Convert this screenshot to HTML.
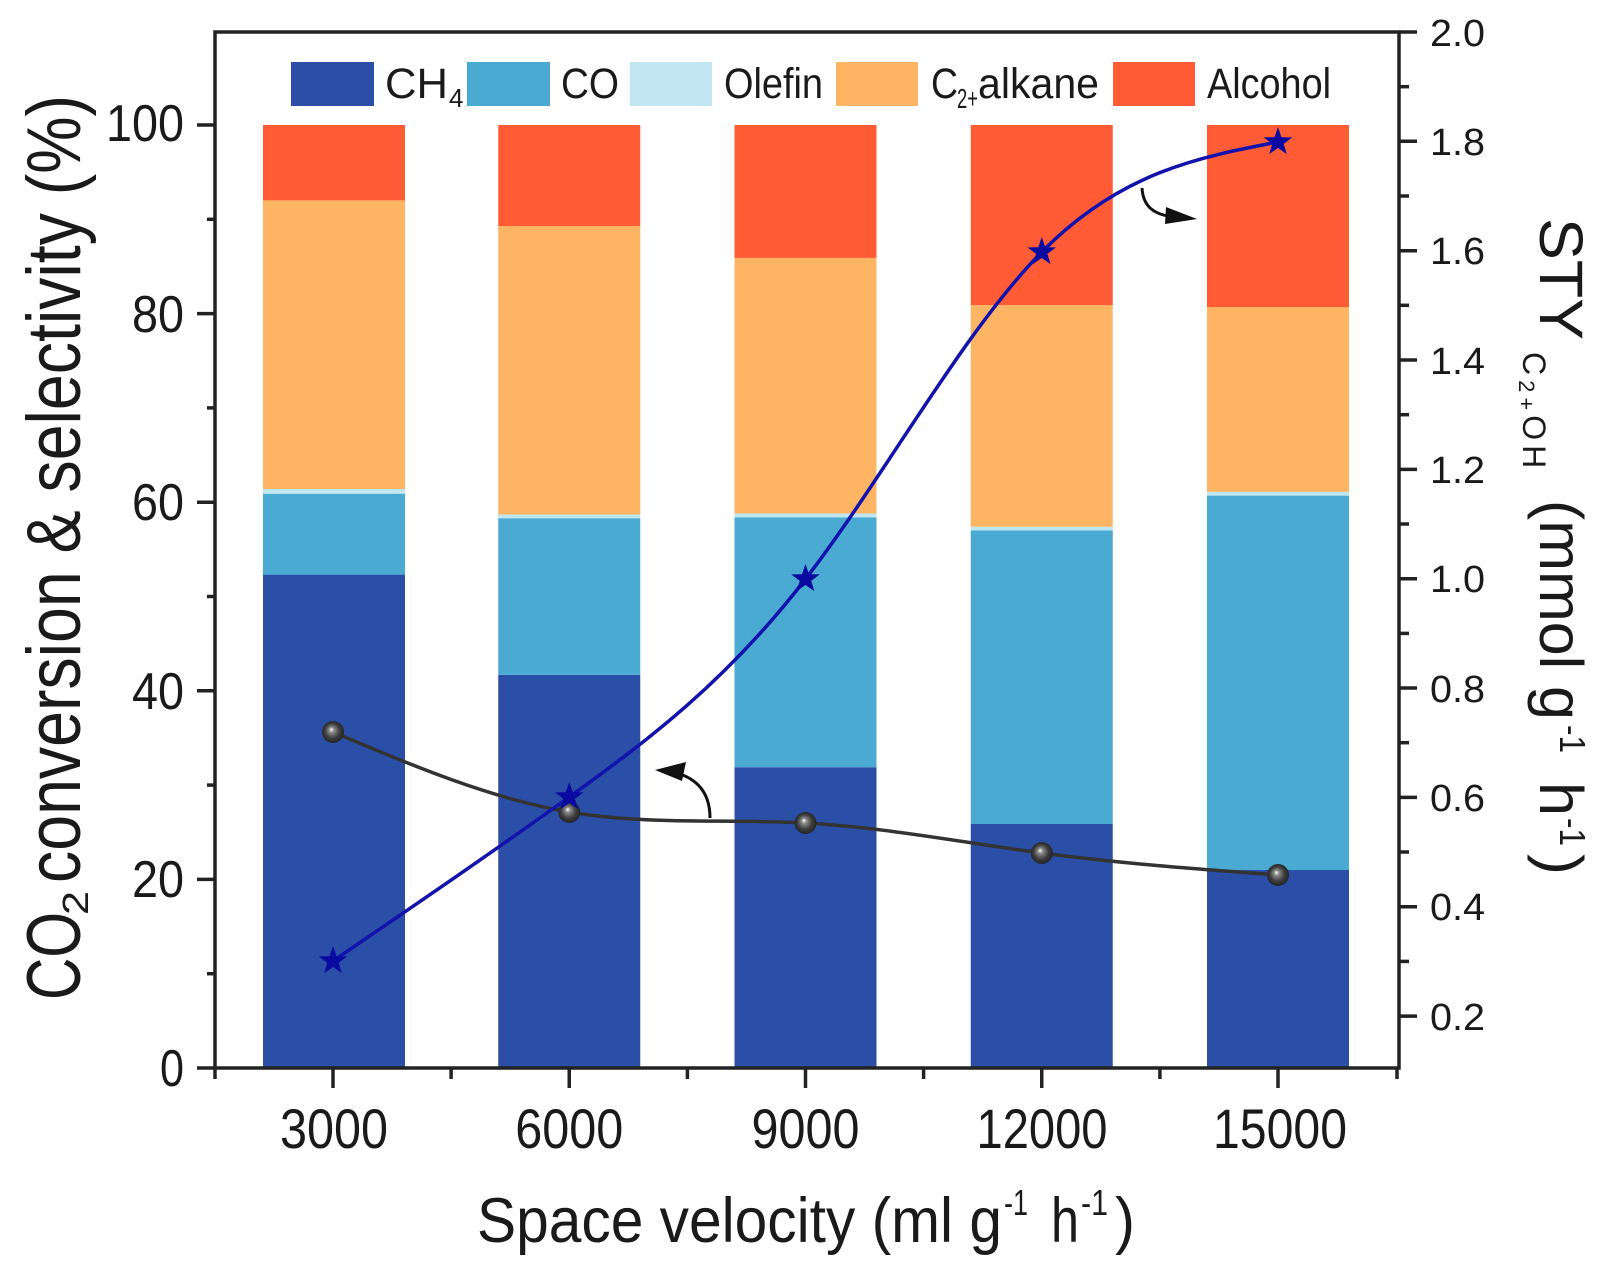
<!DOCTYPE html>
<html>
<head>
<meta charset="utf-8">
<style>
html,body{margin:0;padding:0;background:#fff;}
svg{display:block;}
text{font-family:"Liberation Sans",Arial,Helvetica,sans-serif;fill:#1a1a1a;}
</style>
</head>
<body>
<svg width="1603" height="1267" viewBox="0 0 1603 1267" xmlns="http://www.w3.org/2000/svg">
<defs>
<radialGradient id="ball" cx="0.5" cy="0.5" r="0.55" fx="0.42" fy="0.38">
<stop offset="0" stop-color="#ffffff"/>
<stop offset="0.22" stop-color="#8a8a8a"/>
<stop offset="0.6" stop-color="#3e3e3e"/>
<stop offset="1" stop-color="#1e1e1e"/>
</radialGradient>
<polygon id="star" points="0,-15 3.5,-4.8 14.3,-4.6 5.7,1.9 8.8,12.1 0,6 -8.8,12.1 -5.7,1.9 -14.3,-4.6 -3.5,-4.8" fill="#0a0aa0"/>
</defs>
<rect width="1603" height="1267" fill="#fff"/>

<!-- Bars -->
<g>
<rect x="263" y="574.6" width="142" height="493.4" fill="#2b4fa7"/>
<rect x="263" y="493.7" width="142" height="80.9" fill="#4aaad2"/>
<rect x="263" y="489.0" width="142" height="4.7" fill="#bfe6f1"/>
<rect x="263" y="200.4" width="142" height="288.6" fill="#fdb563"/>
<rect x="263" y="125" width="142" height="75.4" fill="#ff5c35"/>
</g>
<g>
<rect x="498.25" y="674.8" width="142" height="393.2" fill="#2b4fa7"/>
<rect x="498.25" y="518.2" width="142" height="156.6" fill="#4aaad2"/>
<rect x="498.25" y="514.5" width="142" height="3.7" fill="#bfe6f1"/>
<rect x="498.25" y="226.1" width="142" height="288.4" fill="#fdb563"/>
<rect x="498.25" y="125" width="142" height="101.1" fill="#ff5c35"/>
</g>
<g>
<rect x="734.5" y="767.2" width="142" height="300.8" fill="#2b4fa7"/>
<rect x="734.5" y="517.3" width="142" height="249.9" fill="#4aaad2"/>
<rect x="734.5" y="513.5" width="142" height="3.8" fill="#bfe6f1"/>
<rect x="734.5" y="257.9" width="142" height="255.6" fill="#fdb563"/>
<rect x="734.5" y="125" width="142" height="132.9" fill="#ff5c35"/>
</g>
<g>
<rect x="970.75" y="824.0" width="142" height="244" fill="#2b4fa7"/>
<rect x="970.75" y="530.5" width="142" height="293.5" fill="#4aaad2"/>
<rect x="970.75" y="526.7" width="142" height="3.8" fill="#bfe6f1"/>
<rect x="970.75" y="305.1" width="142" height="221.6" fill="#fdb563"/>
<rect x="970.75" y="125" width="142" height="180.1" fill="#ff5c35"/>
</g>
<g>
<rect x="1207" y="870.0" width="142" height="198" fill="#2b4fa7"/>
<rect x="1207" y="495.6" width="142" height="374.4" fill="#4aaad2"/>
<rect x="1207" y="491.8" width="142" height="3.8" fill="#bfe6f1"/>
<rect x="1207" y="307" width="142" height="184.8" fill="#fdb563"/>
<rect x="1207" y="125" width="142" height="182" fill="#ff5c35"/>
</g>

<!-- Legend -->
<rect x="291" y="62" width="83" height="44" fill="#2b4fa7"/>
<text x="385" y="98" font-size="43" textLength="63" lengthAdjust="spacingAndGlyphs">CH</text>
<text x="449" y="107" font-size="26">4</text>
<rect x="467" y="62" width="83" height="44" fill="#4aaad2"/>
<text x="561" y="98" font-size="43" textLength="58" lengthAdjust="spacingAndGlyphs">CO</text>
<rect x="630" y="62" width="82" height="44" fill="#bfe6f1"/>
<text x="724" y="98" font-size="43" textLength="99" lengthAdjust="spacingAndGlyphs">Olefin</text>
<rect x="836" y="62" width="82" height="44" fill="#fdb563"/>
<text x="931" y="98" font-size="43" textLength="27" lengthAdjust="spacingAndGlyphs">C</text>
<text x="957" y="108" font-size="28" textLength="21" lengthAdjust="spacingAndGlyphs">2+</text>
<text x="978" y="98" font-size="43" textLength="121" lengthAdjust="spacingAndGlyphs">alkane</text>
<rect x="1113" y="62" width="82" height="44" fill="#ff5c35"/>
<text x="1207" y="98" font-size="43" textLength="124" lengthAdjust="spacingAndGlyphs">Alcohol</text>

<!-- Black conversion line -->
<path d="M333,732 C411.75,765.33 490.5,798.65 569.25,812 C648,825.34 726.75,818.71 805.5,823 C884.25,827.29 963,842.51 1041.75,853 C1120.5,863.49 1199.25,869.24 1278,875" fill="none" stroke="#333" stroke-width="3.5"/>
<g>
<circle cx="333" cy="732" r="11" fill="url(#ball)"/>
<circle cx="569.25" cy="812" r="11" fill="url(#ball)"/>
<circle cx="805.5" cy="823" r="11" fill="url(#ball)"/>
<circle cx="1041.75" cy="853" r="11" fill="url(#ball)"/>
<circle cx="1278" cy="875" r="11" fill="url(#ball)"/>
</g>

<!-- Blue STY line -->
<path d="M333,961 C411.75,907.27 490.5,853.54 569.25,797 C648,740.46 726.75,681.13 805.5,579 C884.25,476.87 963,331.96 1041.75,252 C1120.5,172.04 1199.25,157.02 1278,142" fill="none" stroke="#1212ac" stroke-width="3.5"/>
<use href="#star" x="333" y="961"/>
<use href="#star" x="569.25" y="797"/>
<use href="#star" x="805.5" y="579"/>
<use href="#star" x="1041.75" y="252"/>
<use href="#star" x="1278" y="142"/>

<!-- Arrows -->
<path d="M710,818 C710,796 700,781 680,774" fill="none" stroke="#111" stroke-width="3"/>
<polygon points="655,770 686,762 682,781" fill="#111"/>
<path d="M1142,188 C1143,205 1152,213 1168,216" fill="none" stroke="#111" stroke-width="3"/>
<polygon points="1197,219 1166,207 1165,224" fill="#111"/>

<!-- Axes frame -->
<rect x="215" y="32" width="1184" height="1036" fill="none" stroke="#222" stroke-width="3.5"/>

<!-- Left ticks -->
<g stroke="#222" stroke-width="3.5">
<line x1="197" y1="1068" x2="215" y2="1068"/>
<line x1="197" y1="879.4" x2="215" y2="879.4"/>
<line x1="197" y1="690.8" x2="215" y2="690.8"/>
<line x1="197" y1="502.2" x2="215" y2="502.2"/>
<line x1="197" y1="313.6" x2="215" y2="313.6"/>
<line x1="197" y1="125" x2="215" y2="125"/>
<line x1="207" y1="973.7" x2="215" y2="973.7"/>
<line x1="207" y1="785.1" x2="215" y2="785.1"/>
<line x1="207" y1="596.5" x2="215" y2="596.5"/>
<line x1="207" y1="407.9" x2="215" y2="407.9"/>
<line x1="207" y1="219.3" x2="215" y2="219.3"/>
</g>
<!-- Bottom ticks -->
<g stroke="#222" stroke-width="3.5">
<line x1="333" y1="1068" x2="333" y2="1088"/>
<line x1="569.25" y1="1068" x2="569.25" y2="1088"/>
<line x1="805.5" y1="1068" x2="805.5" y2="1088"/>
<line x1="1041.75" y1="1068" x2="1041.75" y2="1088"/>
<line x1="1278" y1="1068" x2="1278" y2="1088"/>
<line x1="215" y1="1068" x2="215" y2="1079"/>
<line x1="451.1" y1="1068" x2="451.1" y2="1079"/>
<line x1="687.4" y1="1068" x2="687.4" y2="1079"/>
<line x1="923.6" y1="1068" x2="923.6" y2="1079"/>
<line x1="1159.9" y1="1068" x2="1159.9" y2="1079"/>
<line x1="1397" y1="1068" x2="1397" y2="1079"/>
</g>
<!-- Right ticks -->
<g stroke="#222" stroke-width="3.5">
<line x1="1399" y1="32" x2="1417" y2="32"/>
<line x1="1399" y1="141.3" x2="1417" y2="141.3"/>
<line x1="1399" y1="250.7" x2="1417" y2="250.7"/>
<line x1="1399" y1="360" x2="1417" y2="360"/>
<line x1="1399" y1="469.4" x2="1417" y2="469.4"/>
<line x1="1399" y1="578.7" x2="1417" y2="578.7"/>
<line x1="1399" y1="688" x2="1417" y2="688"/>
<line x1="1399" y1="797.4" x2="1417" y2="797.4"/>
<line x1="1399" y1="906.7" x2="1417" y2="906.7"/>
<line x1="1399" y1="1016.1" x2="1417" y2="1016.1"/>
<line x1="1399" y1="86.7" x2="1409" y2="86.7"/>
<line x1="1399" y1="196" x2="1409" y2="196"/>
<line x1="1399" y1="305.3" x2="1409" y2="305.3"/>
<line x1="1399" y1="414.7" x2="1409" y2="414.7"/>
<line x1="1399" y1="524" x2="1409" y2="524"/>
<line x1="1399" y1="633.4" x2="1409" y2="633.4"/>
<line x1="1399" y1="742.7" x2="1409" y2="742.7"/>
<line x1="1399" y1="852" x2="1409" y2="852"/>
<line x1="1399" y1="961.4" x2="1409" y2="961.4"/>
</g>

<!-- Left tick labels -->
<g font-size="52" text-anchor="end">
<text x="184" y="1086" textLength="24" lengthAdjust="spacingAndGlyphs">0</text>
<text x="184" y="897" textLength="52" lengthAdjust="spacingAndGlyphs">20</text>
<text x="184" y="709" textLength="52" lengthAdjust="spacingAndGlyphs">40</text>
<text x="184" y="520" textLength="52" lengthAdjust="spacingAndGlyphs">60</text>
<text x="184" y="332" textLength="52" lengthAdjust="spacingAndGlyphs">80</text>
<text x="184" y="141" textLength="78" lengthAdjust="spacingAndGlyphs">100</text>
</g>

<!-- Right tick labels -->
<g font-size="38">
<text x="1430" y="46" textLength="55" lengthAdjust="spacingAndGlyphs">2.0</text>
<text x="1430" y="155" textLength="55" lengthAdjust="spacingAndGlyphs">1.8</text>
<text x="1430" y="264" textLength="55" lengthAdjust="spacingAndGlyphs">1.6</text>
<text x="1430" y="374" textLength="55" lengthAdjust="spacingAndGlyphs">1.4</text>
<text x="1430" y="483" textLength="55" lengthAdjust="spacingAndGlyphs">1.2</text>
<text x="1430" y="592" textLength="55" lengthAdjust="spacingAndGlyphs">1.0</text>
<text x="1430" y="702" textLength="55" lengthAdjust="spacingAndGlyphs">0.8</text>
<text x="1430" y="811" textLength="55" lengthAdjust="spacingAndGlyphs">0.6</text>
<text x="1430" y="920" textLength="55" lengthAdjust="spacingAndGlyphs">0.4</text>
<text x="1430" y="1030" textLength="55" lengthAdjust="spacingAndGlyphs">0.2</text>
</g>

<!-- X tick labels -->
<g font-size="56" text-anchor="middle">
<text x="334" y="1148" textLength="108" lengthAdjust="spacingAndGlyphs">3000</text>
<text x="569.25" y="1148" textLength="108" lengthAdjust="spacingAndGlyphs">6000</text>
<text x="805.5" y="1148" textLength="108" lengthAdjust="spacingAndGlyphs">9000</text>
<text x="1042" y="1148" textLength="131" lengthAdjust="spacingAndGlyphs">12000</text>
<text x="1280" y="1148" textLength="134" lengthAdjust="spacingAndGlyphs">15000</text>
</g>

<!-- X title -->
<text x="477" y="1242" font-size="63" textLength="525" lengthAdjust="spacingAndGlyphs">Space velocity (ml g</text>
<text x="1004" y="1215" font-size="36" textLength="24" lengthAdjust="spacingAndGlyphs">-1</text>
<text x="1051" y="1242" font-size="63" textLength="28" lengthAdjust="spacingAndGlyphs">h</text>
<text x="1081" y="1215" font-size="36" textLength="27" lengthAdjust="spacingAndGlyphs">-1</text>
<text x="1115" y="1242" font-size="63" textLength="20" lengthAdjust="spacingAndGlyphs">)</text>

<!-- Left title -->
<g transform="translate(80,0) rotate(-90)">
<text x="-1000" y="0" font-size="76" textLength="88" lengthAdjust="spacingAndGlyphs">CO</text>
<text x="-915" y="8" font-size="36" textLength="24" lengthAdjust="spacingAndGlyphs">2</text>
<text x="-883" y="0" font-size="76" textLength="788" lengthAdjust="spacingAndGlyphs">conversion &amp; selectivity (%)</text>
</g>

<!-- Right title -->
<g transform="translate(1540,0) rotate(90)">
<text x="218" y="0" font-size="61" textLength="122" lengthAdjust="spacingAndGlyphs">STY</text>
<text x="352" y="17" font-size="32" letter-spacing="5">C<tspan font-size="22" dy="4">2+</tspan><tspan dy="-4">OH</tspan></text>
<text x="500" y="0" font-size="61" textLength="220" lengthAdjust="spacingAndGlyphs">(mmol g</text>
<text x="725" y="-20" font-size="36" textLength="28" lengthAdjust="spacingAndGlyphs">-1</text>
<text x="782" y="0" font-size="61" textLength="34" lengthAdjust="spacingAndGlyphs">h</text>
<text x="818" y="-20" font-size="36" textLength="28" lengthAdjust="spacingAndGlyphs">-1</text>
<text x="854" y="0" font-size="61" textLength="21" lengthAdjust="spacingAndGlyphs">)</text>
</g>
</svg>
</body>
</html>
